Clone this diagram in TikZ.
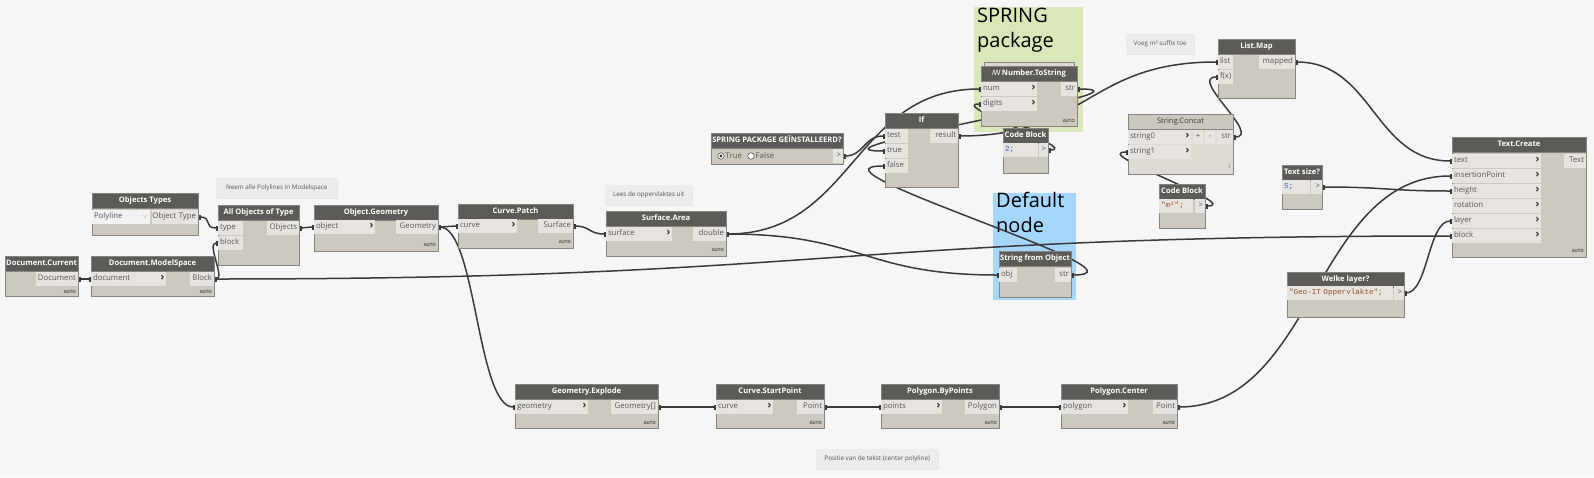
\documentclass[tikz,border=0pt]{standalone}
\usepackage{fontspec}
\setmainfont{Open Sans}
\newfontfamily\codefont{Liberation Mono}
\newfontfamily\symfont{Noto Sans}
\usetikzlibrary{arrows.meta,shadows}
\setlength\parindent{0pt}
\definecolor{canvas}{RGB}{246,246,246}
\definecolor{headcol}{RGB}{93,91,88}
\definecolor{bodycol}{RGB}{205,201,193}
\definecolor{portcol}{RGB}{231,228,223}
\definecolor{bordercol}{RGB}{135,132,126}
\definecolor{porttext}{RGB}{88,88,88}
\definecolor{chevcol}{RGB}{55,55,55}
\definecolor{wirecol}{RGB}{58,58,58}
\definecolor{lhead}{RGB}{203,199,191}
\definecolor{lbody}{RGB}{222,219,213}
\definecolor{greengrp}{RGB}{218,231,184}
\definecolor{bluegrp}{RGB}{165,215,250}
\definecolor{notecol}{RGB}{236,236,236}
\definecolor{notetext}{RGB}{85,85,85}
\definecolor{codeblue}{RGB}{45,105,215}
\definecolor{codebrown}{RGB}{150,80,40}
\definecolor{autocol}{RGB}{80,80,80}
\definecolor{ddcol}{RGB}{242,242,242}
\pgfdeclarelayer{groups}
\pgfdeclarelayer{wires}
\pgfsetlayers{groups,wires,main}
\newcommand\headfont{\fontsize{7.6}{9}\selectfont\bfseries}
\newcommand\portfont{\fontsize{7.8}{9}\selectfont}
\newcommand\chev{{\color{chevcol}\fontsize{10.5}{9}\selectfont\bfseries ›}}
\tikzset{
  dbody/.style={draw=bordercol, fill=bodycol, line width=0.7pt, anchor=north west, inner sep=0pt, outer sep=0pt},
  dhead/.style={draw=bordercol, fill=headcol, line width=0.7pt, anchor=north west, inner sep=0pt, outer sep=0pt, minimum height=15pt, text=white, font=\headfont, text height=5.6pt, text depth=1.6pt},
  lbodystyle/.style={dbody, fill=lbody},
  lheadstyle/.style={dhead, fill=lhead, text=black!75},
  inport/.style={anchor=west, inner sep=0pt, outer sep=0pt, minimum height=14pt, fill=portcol, align=left, font=\portfont, text=porttext, text height=5.6pt, text depth=1.8pt},
  outport/.style={anchor=east, inner sep=0pt, outer sep=0pt, minimum height=14pt, fill=portcol, align=right, font=\portfont, text=porttext, text height=5.6pt, text depth=1.8pt},
  codebox/.style={inport, font=\codefont\fontsize{7.6}{9}\selectfont},
  autotag/.style={anchor=east, inner sep=0pt, font=\fontsize{4.3}{5}\selectfont\bfseries, text=autocol},
  grp/.style={anchor=north west, inner sep=0pt, outer sep=0pt},
  grptitle/.style={anchor=north west, inner sep=0pt, align=left, font=\fontsize{20}{24.5}\selectfont, text=black},
  notebox/.style={anchor=north west, fill=notecol, inner sep=0pt, font=\fontsize{6.3}{7}\selectfont, text=notetext, drop shadow={opacity=0.12, shadow xshift=0.8pt, shadow yshift=-1pt}},
  wire/.style={draw=wirecol, line width=1.5pt, {Rectangle[length=2.5pt,width=5pt]}-{Rectangle[length=2.5pt,width=5pt]}},
  radiob/.style={circle, draw=black!65, fill=white, line width=0.6pt, minimum size=6.5pt, inner sep=0pt},
  radiotext/.style={anchor=west, inner sep=0pt, font=\portfont, text=porttext}
}
\newcommand\dNode[6]{%
  \node[dbody, minimum width=#4pt, minimum height=#5pt] (#1) at (#2,#3) {};
  \node[dhead, minimum width=#4pt] (#1-h) at (#2,#3) {#6};}
\newcommand\dIn[5]{\node[inport, text width=#4pt] (#1) at (#2,#3) {\hspace*{2pt}#5\hfill\chev\hspace*{1.5pt}};}
\newcommand\dInN[5]{\node[inport, text width=#4pt] (#1) at (#2,#3) {\hspace*{2pt}#5};}
\newcommand\dOut[5]{\node[outport, text width=#4pt] (#1) at (#2,#3) {#5\hspace*{2pt}};}
\newcommand\dAuto[3]{\node[autotag] (#1) at (#2,#3) {AUTO};}
\begin{document}
\begin{tikzpicture}[x=1pt,y=-1pt]
\useasboundingbox (0,0) rectangle (1594,477);
\begin{pgfonlayer}{groups}
  \fill[canvas] (0,0) rectangle (1594,477);
  \node[grp, fill=greengrp, minimum width=109pt, minimum height=125pt] (g-spring) at (974,7) {};
  \node[grptitle] (g-spring-t) at (977,8) {SPRING\\package};
  \node[grp, fill=bluegrp, minimum width=83pt, minimum height=107pt] (g-default) at (993,193) {};
  \node[grptitle] (g-default-t) at (996,192) {Default\\node};
\end{pgfonlayer}

% notes
\node[notebox, minimum width=121pt, minimum height=20pt] (n1) at (216,178) {Neem alle Polylines in Modelspace};
\node[notebox, minimum width=87pt, minimum height=20pt] (n2) at (605,185) {Lees de oppervlaktes uit};
\node[notebox, minimum width=68pt, minimum height=20pt] (n3) at (1126,34) {Voeg m² suffix toe};
\node[notebox, minimum width=122pt, minimum height=20pt] (n4) at (816,449) {Positie van de tekst (center polyline)};

% Document.Current
\dNode{dc}{5}{256}{73}{40}{Document.Current}
\dOut{dc-doc}{78}{279}{42}{Document}
\dAuto{dc-auto}{76}{292}
% Document.ModelSpace
\dNode{dms}{91}{256}{123}{40}{Document.ModelSpace}
\dIn{dms-doc}{91}{279}{75}{document}
\dOut{dms-block}{214}{279}{24}{Block}
\dAuto{dms-auto}{212}{292}
% Objects Types
\dNode{ot}{92}{193}{106}{42}{Objects Types}
\node[inport, fill=ddcol, text width=58pt] (ot-dd) at (92,217) {\hspace*{2pt}Polyline\hfill{\color{black!45}\scalebox{0.7}{$\vee$}}\hspace*{3pt}};
\dOut{ot-type}{198}{217}{46}{Object Type}
% All Objects of Type
\dNode{aot}{218}{205}{81}{60}{All Objects of Type}
\dInN{aot-type}{218}{228}{25}{type}
\dInN{aot-block}{218}{243}{25}{block}
\dOut{aot-obj}{299}{228}{32}{Objects}
% Object.Geometry
\dNode{og}{314}{205}{124}{46}{Object.Geometry}
\dIn{og-obj}{314}{227}{61}{object}
\dOut{og-geo}{438}{227}{42}{Geometry}
\dAuto{og-auto}{436}{245}
% Curve.Patch
\dNode{cp}{458}{204}{115}{44}{Curve.Patch}
\dIn{cp-curve}{458}{226}{59}{curve}
\dOut{cp-surf}{573}{226}{35}{Surface}
\dAuto{cp-auto}{571}{242}
% Surface.Area
\dNode{sa}{606}{211}{120}{45}{Surface.Area}
\dIn{sa-surf}{606}{234}{66}{surface}
\dOut{sa-dbl}{726}{234}{33}{double}
\dAuto{sa-auto}{724}{250}
% SPRING PACKAGE bool
\dNode{sp}{711}{133}{132}{31}{SPRING PACKAGE GEÏNSTALLEERD?}
\node[radiob] (sp-rt) at (721,156) {};
\fill[black!80] (sp-rt.center) circle (1.7pt);
\node[radiotext] (sp-tt) at (725.5,156) {True};
\node[radiob] (sp-rf) at (751,156) {};
\node[radiotext] (sp-tf) at (755.5,156) {False};
\dOut{sp-out}{843}{156}{10}{\textgreater}
% If
\dNode{if}{885}{113}{73}{74}{If}
\dInN{if-test}{885}{136}{23}{test}
\dInN{if-true}{885}{151}{23}{true}
\dInN{if-false}{885}{166}{23}{false}
\dOut{if-res}{958}{136}{28}{result}
% Number.ToString
\node[dbody, fill=bodycol!70!white, minimum width=90pt, minimum height=8pt] (nts-stack) at (984,62.5) {};
\dNode{nts}{981}{66}{96}{60}{{\symfont ꟿ}\,Number.ToString}
\dIn{nts-num}{981}{89}{56}{num}
\dIn{nts-dig}{981}{104}{56}{digits}
\dOut{nts-str}{1077}{89}{16}{str}
\dAuto{nts-auto}{1075}{121}
% Code Block 2
\dNode{cb2}{1003}{128}{45}{45}{Code Block}
\node[codebox, text width=35pt] (cb2-code) at (1003,150) {\hspace*{2pt}\textcolor{codeblue}{2;}};
\dOut{cb2-out}{1048}{150}{9}{\textgreater}
% String.Concat
\node[lbodystyle, minimum width=105pt, minimum height=60pt] (sc) at (1128,114) {};
\node[lheadstyle, minimum width=105pt] (sc-h) at (1128,114) {\fontsize{7.6}{9}\selectfont\mdseries String.Concat};
\dIn{sc-s0}{1128}{137}{63}{string0}
\dIn{sc-s1}{1128}{152}{63}{string1}
\node[outport, text width=10pt, align=center] (sc-plus) at (1203,137) {+};
\node[outport, text width=10pt, align=center] (sc-minus) at (1215,137) {-};
\dOut{sc-str}{1233}{137}{16}{str}
\node[autotag, font=\fontsize{5}{5}\selectfont] (sc-lace) at (1230,167) {l};
% Code Block m2
\dNode{cbm}{1159}{184}{46}{44}{Code Block}
\node[codebox, text width=34pt] (cbm-code) at (1159,206) {\hspace*{2pt}\textcolor{codebrown}{"m²";}};
\dOut{cbm-out}{1205}{206}{10}{\textgreater}
% List.Map
\dNode{lm}{1218}{39}{77}{59}{List.Map}
\dInN{lm-list}{1218}{62}{15}{list}
\dInN{lm-fx}{1218}{77}{15}{f(x)}
\dOut{lm-map}{1295}{62}{36}{mapped}
% Text size?
\dNode{ts}{1282}{165}{40}{44}{Text size?}
\node[codebox, text width=28pt] (ts-code) at (1282,187) {\hspace*{2pt}\textcolor{codeblue}{5;}};
\dOut{ts-out}{1322}{187}{11}{\textgreater}
% Text.Create
\dNode{tc}{1452}{137}{134}{120}{Text.Create}
\dIn{tc-text}{1452}{161}{89}{text}
\dIn{tc-ins}{1452}{176}{89}{insertionPoint}
\dIn{tc-h}{1452}{191}{89}{height}
\dIn{tc-rot}{1452}{206}{89}{rotation}
\dIn{tc-layer}{1452}{221}{89}{layer}
\dIn{tc-block}{1452}{236}{89}{block}
\dOut{tc-out}{1586}{161}{22}{Text}
\dAuto{tc-auto}{1584}{251}
% Welke layer?
\dNode{wl}{1287}{272}{117}{45}{Welke layer?}
\node[codebox, text width=106pt] (wl-code) at (1287,293) {\hspace*{2pt}\textcolor{codebrown}{"Geo-IT Oppervlakte";}};
\dOut{wl-out}{1404}{293}{10}{\textgreater}
% String from Object
\dNode{sfo}{999}{251}{72}{46}{String from Object}
\dInN{sfo-obj}{999}{275}{18}{obj}
\dOut{sfo-str}{1071}{275}{16}{str}
% bottom row
\dNode{ge}{515}{384}{143}{44}{Geometry.Explode}
\dIn{ge-geo}{515}{407}{73}{geometry}
\dOut{ge-out}{658}{407}{47}{Geometry[]}
\dAuto{ge-auto}{656}{423}
\dNode{csp}{716}{384}{108}{44}{Curve.StartPoint}
\dIn{csp-c}{716}{407}{57}{curve}
\dOut{csp-p}{824}{407}{27}{Point}
\dAuto{csp-auto}{822}{423}
\dNode{pbp}{881}{384}{118}{44}{Polygon.ByPoints}
\dIn{pbp-pts}{881}{407}{61}{points}
\dOut{pbp-poly}{999}{407}{34}{Polygon}
\dAuto{pbp-auto}{997}{423}
\dNode{pc}{1061}{384}{116}{44}{Polygon.Center}
\dIn{pc-poly}{1061}{407}{67}{polygon}
\dOut{pc-pt}{1177}{407}{24}{Point}
\dAuto{pc-auto}{1175}{423}

\begin{pgfonlayer}{wires}
\draw[wire] (ot-type.east) .. controls +(15,0) and +(-15,0) .. (aot-type.west);
\draw[wire] (dc-doc.east) .. controls +(7,0) and +(-7,0) .. (dms-doc.west);
\draw[wire] (dms-block.east) .. controls +(12,0) and +(-12,0) .. (aot-block.west);
\draw[wire] (dms-block.east) .. controls +(619,0) and +(-619,0) .. (tc-block.west);
\draw[wire] (aot-obj.east) .. controls +(8,0) and +(-8,0) .. (og-obj.west);
\draw[wire] (og-geo.east) .. controls +(10,0) and +(-10,0) .. (cp-curve.west);
\draw[wire] (og-geo.east) .. controls +(38,0) and +(-38,0) .. (ge-geo.west);
\draw[wire] (cp-surf.east) .. controls +(17,0) and +(-17,0) .. (sa-surf.west);
\draw[wire] (sa-dbl.east) .. controls +(128,0) and +(-128,0) .. (nts-num.west);
\draw[wire] (sa-dbl.east) .. controls +(136,0) and +(-136,0) .. (sfo-obj.west);
\draw[wire] (sp-out.east) .. controls +(21,0) and +(-21,0) .. (if-test.west);
\draw[wire] (nts-str.east) .. controls +(96,0) and +(-96,0) .. (if-true.west);
\draw[wire] (sfo-str.east) .. controls +(93,0) and +(-93,0) .. (if-false.west);
\draw[wire] (cb2-out.east) .. controls +(34,0) and +(-34,0) .. (nts-dig.west);
\draw[wire] (if-res.east) .. controls +(130,0) and +(-130,0) .. (lm-list.west);
\draw[wire] (sc-str.east) .. controls +(30,0) and +(-30,0) .. (lm-fx.west);
\draw[wire] (cbm-out.east) .. controls +(40,0) and +(-40,0) .. (sc-s1.west);
\draw[wire] (lm-map.east) .. controls +(78,0) and +(-78,0) .. (tc-text.west);
\draw[wire] (pc-pt.east) .. controls +(138,0) and +(-138,0) .. (tc-ins.west);
\draw[wire] (ts-out.east) .. controls +(65,0) and +(-65,0) .. (tc-h.west);
\draw[wire] (wl-out.east) .. controls +(24,0) and +(-24,0) .. (tc-layer.west);
\draw[wire] (ge-out.east) .. controls +(29,0) and +(-29,0) .. (csp-c.west);
\draw[wire] (csp-p.east) .. controls +(28,0) and +(-28,0) .. (pbp-pts.west);
\draw[wire] (pbp-poly.east) .. controls +(31,0) and +(-31,0) .. (pc-poly.west);
\end{pgfonlayer}
\end{tikzpicture}
\end{document}
